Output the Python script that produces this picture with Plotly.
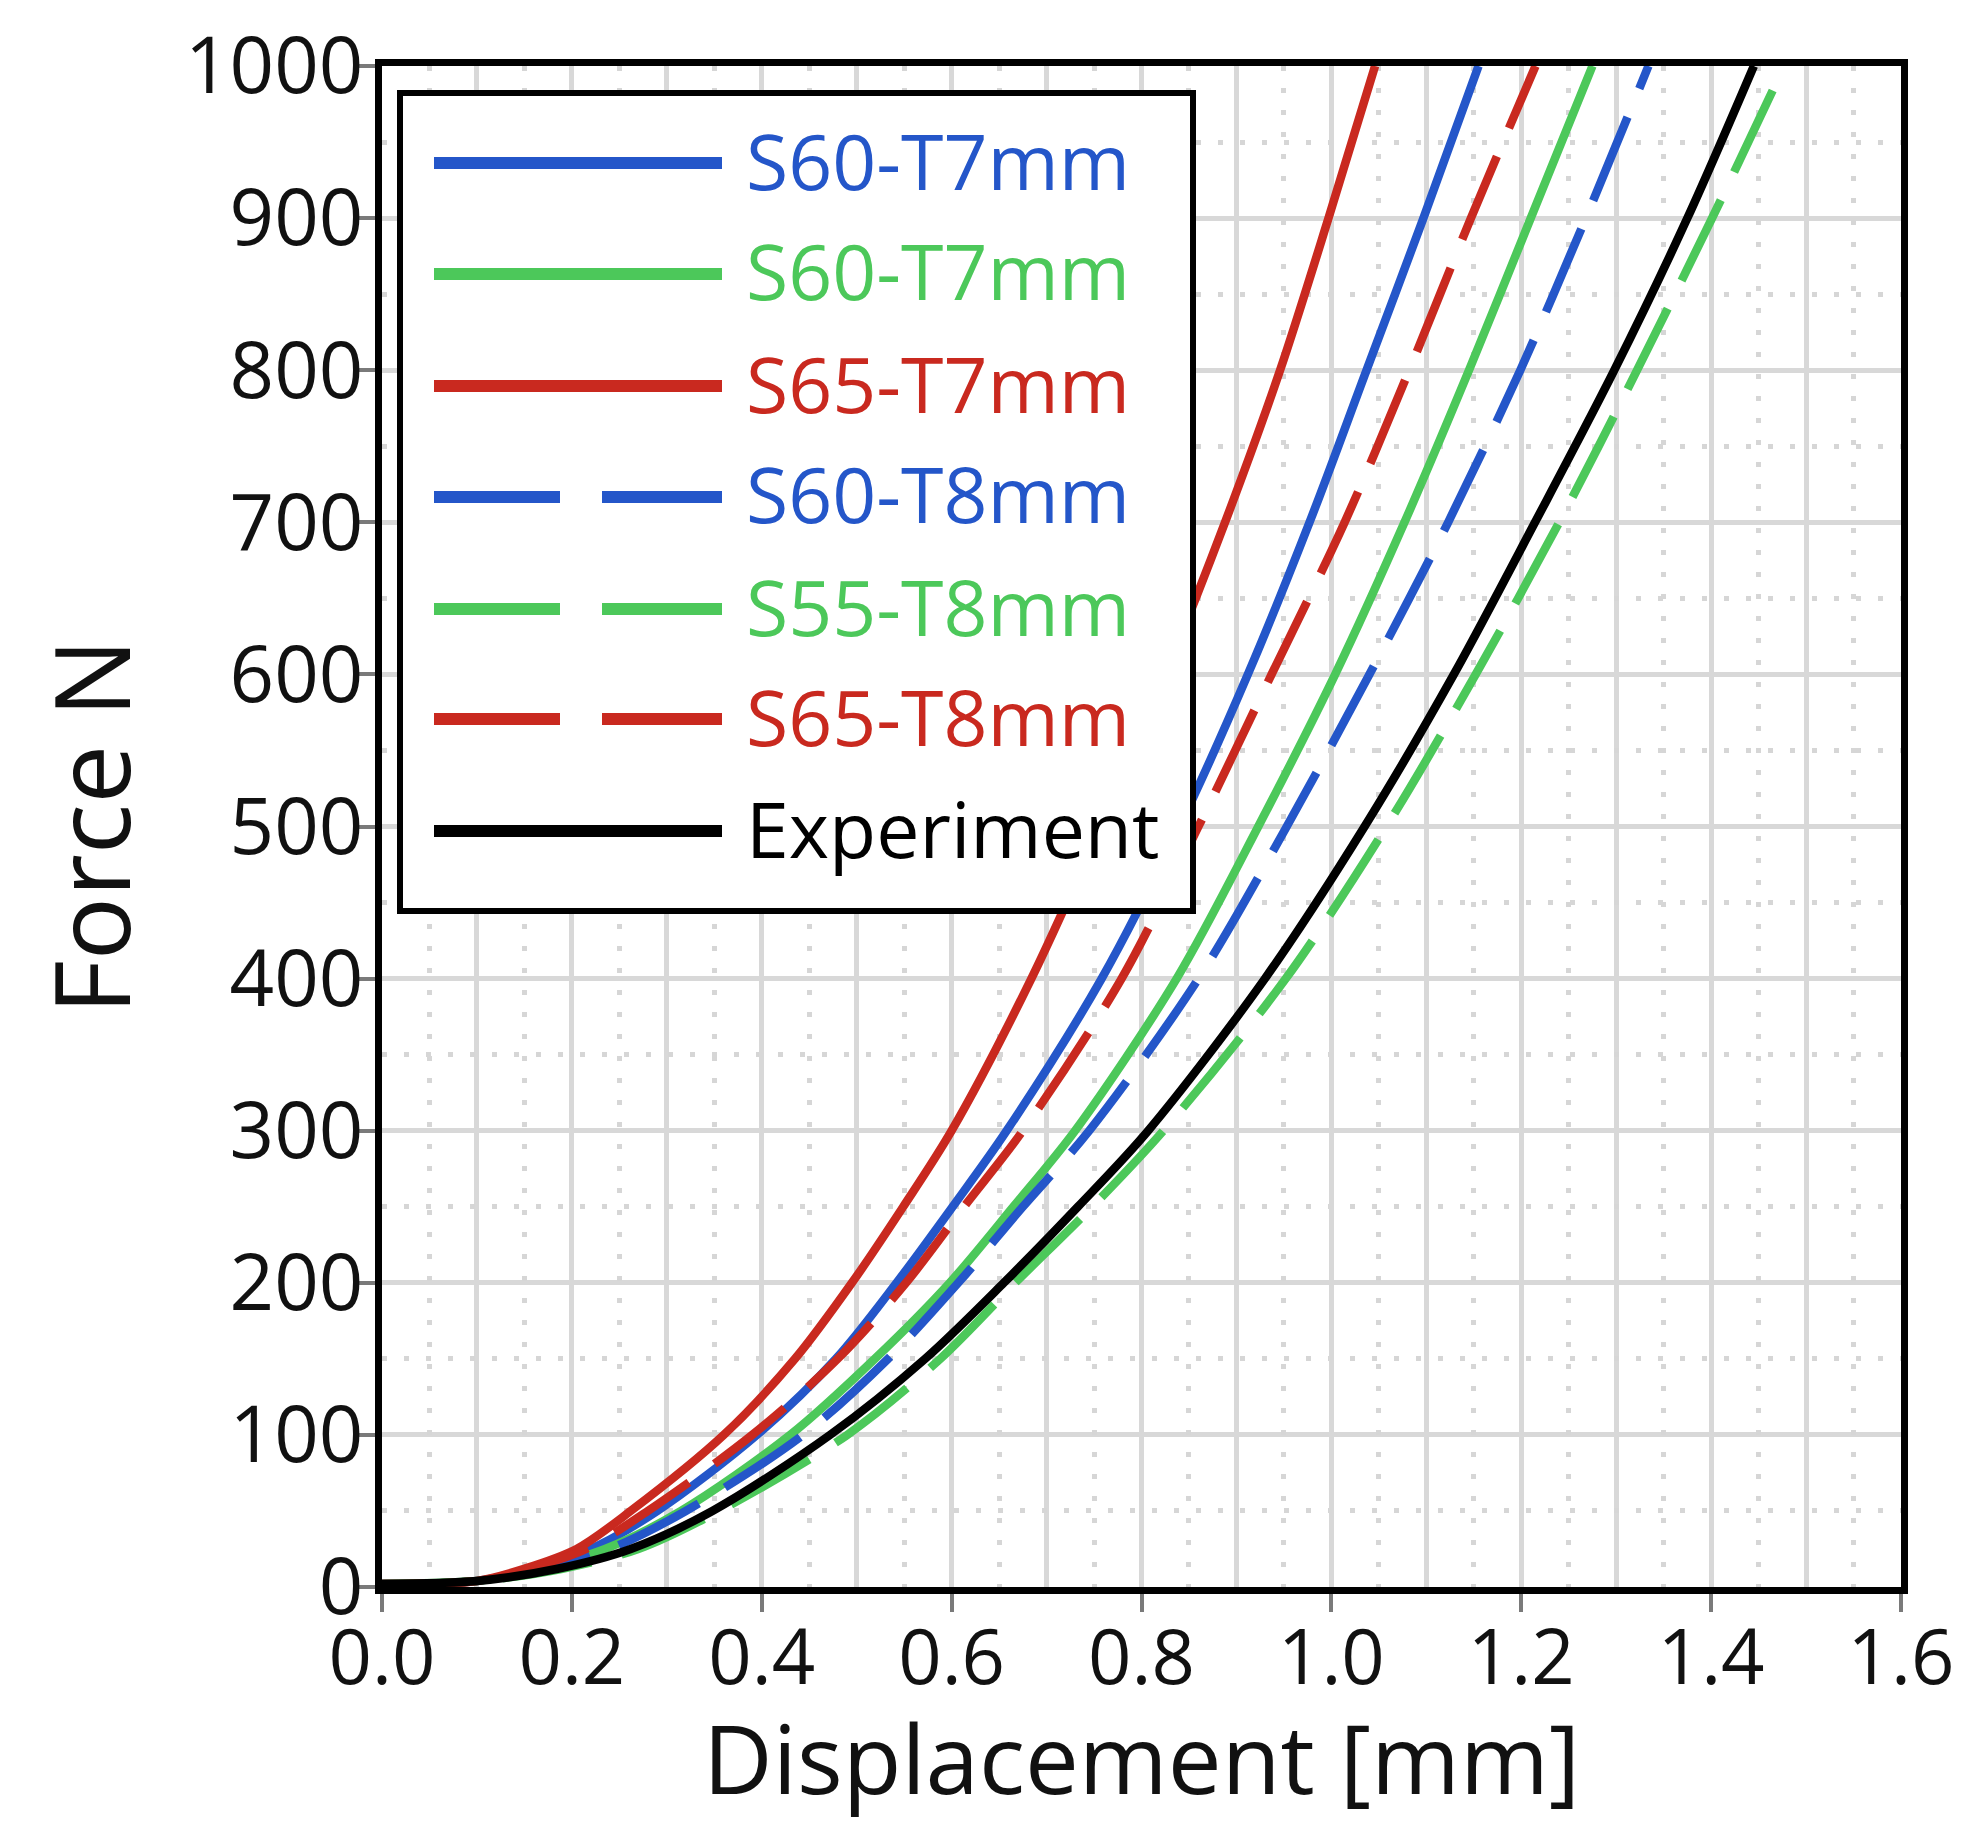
import plotly.graph_objects as go

# ---------------- data ----------------
force = [2, 4, 12, 25, 50, 100, 150, 200, 250, 300, 400, 500, 600, 700, 800, 900, 1000]

s60_t7_blue = [0, 0.10, 0.16, 0.22, 0.29, 0.395, 0.478, 0.542, 0.601, 0.658, 0.758, 0.840, 0.912, 0.977, 1.037, 1.097, 1.155]
s60_t7_green = [0, 0.10, 0.165, 0.235, 0.315, 0.430, 0.519, 0.598, 0.665, 0.730, 0.837, 0.923, 1.004, 1.077, 1.145, 1.210, 1.275]
s65_t7 = [0, 0.10, 0.15, 0.205, 0.262, 0.360, 0.435, 0.495, 0.549, 0.600, 0.684, 0.757, 0.825, 0.888, 0.946, 0.997, 1.046]
s60_t8 = [0, 0.10, 0.17, 0.24, 0.32, 0.4435, 0.533, 0.607, 0.675, 0.745, 0.860, 0.953, 1.040, 1.123, 1.199, 1.268, 1.334]
s55_t8 = [0, 0.10, 0.19, 0.27, 0.355, 0.490, 0.588, 0.667, 0.748, 0.823, 0.952, 1.058, 1.152, 1.240, 1.322, 1.401, 1.477]
s65_t8 = [0, 0.10, 0.155, 0.215, 0.28, 0.390, 0.480, 0.552, 0.613, 0.675, 0.779, 0.860, 0.937, 1.014, 1.082, 1.147, 1.215]
experiment = [0, 0.10, 0.185, 0.262, 0.348, 0.472, 0.572, 0.655, 0.733, 0.807, 0.930, 1.035, 1.129, 1.2145, 1.298, 1.375, 1.445]

series_names = ["S60-T7mm", "S60-T7mm", "S65-T7mm", "S60-T8mm", "S55-T8mm", "S65-T8mm", "Experiment"]
series_disp = [s60_t7_blue, s60_t7_green, s65_t7, s60_t8, s55_t8, s65_t8, experiment]

x_title = "Displacement [mm]"
y_title = "Force N"

BLUE = "#2456c9"
GREEN = "#4cc85a"
RED = "#c9291f"
BLACK = "#000000"
series_colors = [BLUE, GREEN, RED, BLUE, GREEN, RED, BLACK]
series_dashed = [False, False, False, True, True, True, False]

FONT = "Open Sans"
GRID = "#d8d8d8"
DOT = "#d6d6d6"

fig = go.Figure()

for name, disp, col, dashed in zip(series_names, series_disp, series_colors, series_dashed):
    fig.add_trace(go.Scatter(
        x=disp, y=force, mode="lines", name=name, showlegend=False,
        line=dict(color=col, width=8.5, dash="90px,31px" if dashed else "solid",
                  shape="spline", smoothing=0.9),
    ))

# dummy trace for overlay axis carrying the dotted 0.05 grid
fig.add_trace(go.Scatter(x=[], y=[], xaxis="x2", yaxis="y", showlegend=False, hoverinfo="skip"))

# ---------------- custom legend ----------------
L = 382; T = 66; PW = 1519; PH = 1521; B = T + PH

def px_x(px):
    return (px - L) / PW

def px_y(py):
    return (B - py) / PH

shapes = [dict(type="rect", xref="paper", yref="paper",
               x0=px_x(400), x1=px_x(1193), y0=px_y(911), y1=px_y(93),
               fillcolor="white", line=dict(color="black", width=6), layer="above")]
annotations = []
row_y = [163, 274, 386, 497, 609, 719, 831]
for name, col, dashed, ry in zip(series_names, series_colors, series_dashed, row_y):
    shapes.append(dict(type="line", xref="paper", yref="paper",
                       x0=px_x(434), x1=px_x(722), y0=px_y(ry), y1=px_y(ry),
                       line=dict(color=col, width=12, dash="126px,42px" if dashed else "solid"),
                       layer="above"))
    annotations.append(dict(xref="paper", yref="paper", x=px_x(744), y=px_y(ry - 3),
                            xanchor="left", yanchor="middle", text=name, showarrow=False,
                            font=dict(family=FONT, size=77, color=col)))

# x-axis title placed as in the reference
annotations.append(dict(xref="paper", yref="paper", x=0.5, y=px_y(1756),
                        xanchor="center", yanchor="middle", text=x_title, showarrow=False,
                        font=dict(family=FONT, size=96, color="#111111")))

fig.update_layout(
    width=1983, height=1822, autosize=False,
    margin=dict(l=L, r=1983 - L - PW, t=T, b=1822 - B, pad=0),
    paper_bgcolor="white", plot_bgcolor="white",
    font=dict(family=FONT, color="#111111"),
    showlegend=False,
    shapes=shapes, annotations=annotations,
    xaxis=dict(
        range=[0, 1.6], dtick=0.2, tick0=0, tickformat=".1f", automargin=False,
        showline=True, mirror=True, linecolor="black", linewidth=7,
        ticks="outside", ticklen=18, tickwidth=4, tickcolor="#7a7a7a",
        ticklabelstandoff=-19,
        showgrid=True, gridcolor=GRID, gridwidth=5, zeroline=False,
        tickfont=dict(family=FONT, size=76, color="#111111"),
        minor=dict(dtick=0.1, tick0=0, showgrid=True, gridcolor=GRID, gridwidth=5, ticks=""),
        layer="above traces",
    ),
    xaxis2=dict(
        overlaying="x", range=[0, 1.6], tick0=0.05, dtick=0.1, automargin=False,
        showgrid=True, gridcolor=DOT, gridwidth=5, griddash="5px,17px",
        showticklabels=False, ticks="", showline=False, zeroline=False,
    ),
    yaxis=dict(
        range=[0, 1000], dtick=100, tick0=0, automargin=False,
        showline=True, mirror=True, linecolor="black", linewidth=7,
        ticks="outside", ticklen=18, tickwidth=4, tickcolor="#7a7a7a",
        ticklabelstandoff=-22,
        showgrid=True, gridcolor=GRID, gridwidth=5, zeroline=False,
        tickfont=dict(family=FONT, size=78, color="#111111"),
        title=dict(text=y_title, font=dict(family=FONT, size=105, color="#111111"), standoff=22),
        minor=dict(dtick=50, tick0=0, showgrid=True, gridcolor=DOT, gridwidth=5,
                   griddash="5px,17px", ticks=""),
        layer="above traces",
    ),
)

fig.write_html("out.html")
